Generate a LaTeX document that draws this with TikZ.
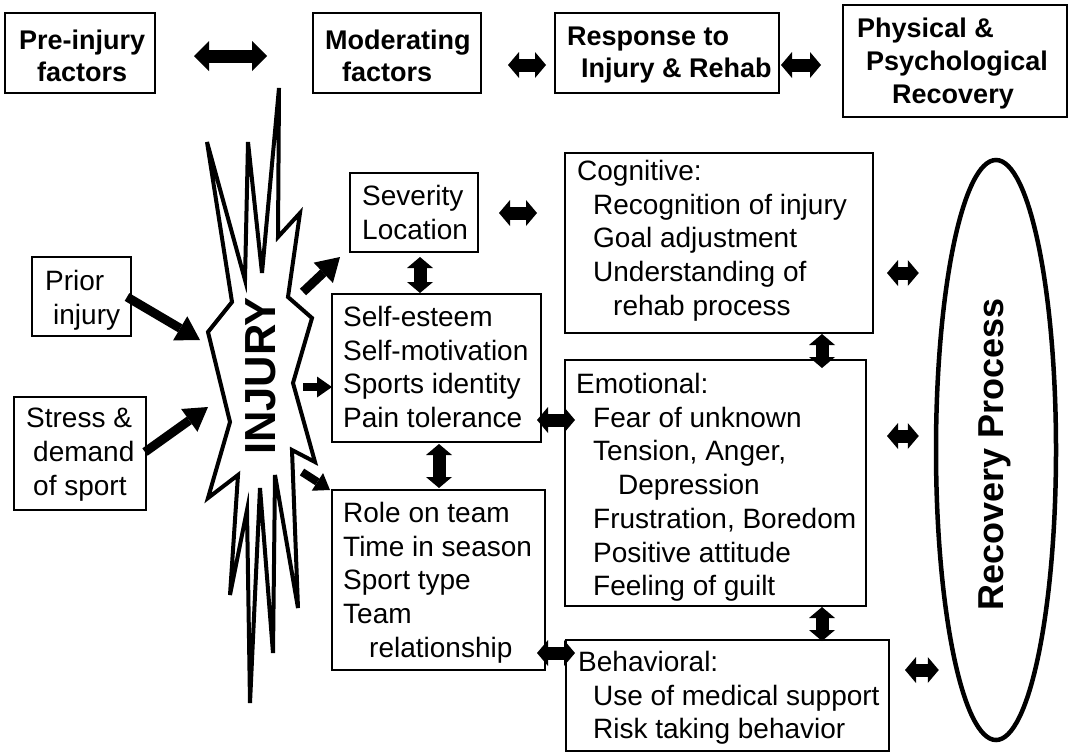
\documentclass[tikz,border=0pt]{standalone}
\usepackage{fontspec}
\setmainfont{Liberation Sans}
\usetikzlibrary{arrows.meta,calc,shapes.geometric}
\begin{document}
\begin{tikzpicture}[x=1pt,y=-1pt,
  box/.style={draw,line width=1.4pt,anchor=north west,inner sep=0pt,outer sep=0pt},
  txt/.style={anchor=north west,inner sep=0pt,align=left,font=\fontsize{28pt}{33.7pt}\selectfont},
  hd/.style={anchor=north west,inner sep=0pt,align=left,font=\bfseries\fontsize{27pt}{32pt}\selectfont},
  dbl/.style={line width=13pt,{Triangle[length=11pt,width=26pt,line width=0pt]}-{Triangle[length=11pt,width=26pt,line width=0pt]}},
  dblbig/.style={line width=13pt,{Triangle[length=15pt,width=30pt,line width=0pt]}-{Triangle[length=15pt,width=30pt,line width=0pt]}},
  arr/.style={line width=9pt,-{Triangle[length=23pt,width=28pt,line width=0pt]}},
  sarr/.style={line width=8pt,-{Triangle[length=15pt,width=21pt,line width=0pt]}}]
\useasboundingbox (0,0) rectangle (1070,753);
\fill[white] (0,0) rectangle (1070,753);

% top row
\node[box,minimum width=150pt,minimum height=80pt] (pre) at (5,13) {};
\node[hd] (pret) at (19,29.7) {Pre-injury\\\hspace*{18pt}factors};
\node[box,minimum width=168pt,minimum height=80pt] (mod) at (313,13) {};
\node[hd] (modt) at (325,29.7) {Moderating\\\hspace*{17pt}factors};
\node[box,minimum width=224pt,minimum height=80pt] (resp) at (555,13) {};
\node[hd] (respt) at (567,26.7) {Response to\\\hspace*{14pt}Injury \& Rehab};
\node[box,minimum width=224pt,minimum height=112pt] (phys) at (843,5) {};
\node[hd,font=\bfseries\fontsize{27pt}{33pt}\selectfont] (physt) at (857,17.7) {Physical \&\\\hspace*{9pt}Psychological\\\hspace*{35pt}Recovery};

% starburst
\draw[line width=4pt,fill=white,line join=miter]
  (279,88) -- (278,237) -- (300,213) -- (288,297) -- (312,318) -- (293,383)
  -- (315,462) -- (292,450) -- (298,608) -- (275,475) -- (273,653) -- (260,488)
  -- (250,703) -- (247,510) -- (230,595) -- (238,475) -- (208,498) -- (230,422)
  -- (208,332) -- (232,302) -- (207,142) -- (245,280) -- (248,142) -- (262,273) -- cycle;
\node[rotate=90,inner sep=0pt,font=\bfseries\fontsize{43.5pt}{44pt}\selectfont] (injury) at (261,376) {INJURY};
\coordinate (ia) at (200,340);
\coordinate (ib) at (208,407);
\coordinate (ic) at (303,292);
\coordinate (id) at (303,387);
\coordinate (ie) at (302,472);

% left boxes
\node[box,minimum width=99pt,minimum height=79pt] (prior) at (32,257) {};
\node[txt] (priort) at (45,270) {Prior\\\hspace*{8pt}injury};
\node[box,minimum width=132pt,minimum height=113pt] (stress) at (14,397) {};
\node[txt] (stresst) at (26,408) {Stress \&\\\hspace*{7pt}demand\\\hspace*{7pt}of sport};

% middle boxes
\node[box,minimum width=128pt,minimum height=79pt] (sev) at (350,173) {};
\node[txt] (sevt) at (362,185) {Severity\\Location};
\node[box,minimum width=209pt,minimum height=148pt] (self) at (332,294) {};
\node[txt] (selft) at (343,306) {Self-esteem\\Self-motivation\\Sports identity\\Pain tolerance};
\node[box,minimum width=213pt,minimum height=180pt] (role) at (332,490) {};
\node[txt] (rolet) at (343,502) {Role on team\\Time in season\\Sport type\\Team\\\hspace*{26pt}relationship};

% right boxes
\node[box,minimum width=308pt,minimum height=180pt] (cog) at (565,153) {};
\node[txt] (cogt) at (577,160) {Cognitive:\\\hspace*{16pt}Recognition of injury\\\hspace*{16pt}Goal adjustment\\\hspace*{16pt}Understanding of\\\hspace*{36pt}rehab process};
\node[box,minimum width=301pt,minimum height=246pt] (emo) at (565,360) {};
\node[txt] (emot) at (576,373) {Emotional:\\\hspace*{17pt}Fear of unknown\\\hspace*{17pt}Tension, Anger,\\\hspace*{42pt}Depression\\\hspace*{17pt}Frustration, Boredom\\\hspace*{17pt}Positive attitude\\\hspace*{17pt}Feeling of guilt};
\node[box,minimum width=323pt,minimum height=111pt] (beh) at (566,640) {};
\node[txt] (beht) at (578,651) {Behavioral:\\\hspace*{15pt}Use of medical support\\\hspace*{15pt}Risk taking behavior};

% recovery ellipse
\node[ellipse,draw,line width=4.5pt,minimum width=120pt,minimum height=580pt,inner sep=0pt] (rec) at (996,450) {};
\node[rotate=90,inner sep=0pt,font=\bfseries\fontsize{36pt}{40pt}\selectfont] (rect) at (995,454) {Recovery Process};

% single arrows
\draw[arr] ($(prior.east)+(-4,0.5)$) -- (ia);
\draw[arr] ($(stress.east)+(-1,-1.5)$) -- (ib);
\draw[arr] (ic) -- ($(sev.south west)+(-10,5)$);
\draw[sarr] (id) -- ($(self.west)+(0,19)$);
\draw[sarr] (ie) -- ($(role.north west)+(-2,0)$);

% double arrows
\draw[dblbig] ($(pre.east)+(39,3)$) -- ($(mod.west)+(-46,3)$);
\draw[dbl] ($(mod.east)+(27,12)$) -- ($(resp.west)+(-9,12)$);
\draw[dbl] ($(resp.east)+(2,12)$) -- ($(phys.west)+(-22,4)$);
\draw[dbl] ($(sev.east)+(21,0.5)$) -- ($(cog.west)+(-28,-30)$);
\draw[dbl] ($(sev.south)+(6,5)$) -- ($(self.north)+(-16.5,-1)$);
\draw[dbl] ($(self.south)+(2.5,2)$) -- ($(role.north)+(0.5,-2)$);
\draw[dbl] ($(self.east)+(-4,52)$) -- ($(emo.west)+(10,-63)$);
\draw[dbl] ($(role.east)+(-8,73)$) -- ($(beh.west)+(9,-42.5)$);
\draw[dbl] ($(cog.south)+(103,1)$) -- ($(emo.north)+(106.5,8)$);
\draw[dbl] ($(emo.south)+(106.5,1)$) -- ($(beh.north)+(94.5,1)$);
\draw[dbl] ($(cog.east)+(14,30)$) -- ($(rec.west)+(-15,-177)$);
\draw[dbl] ($(emo.east)+(21,-47)$) -- ($(rec.west)+(-15,-14)$);
\draw[dbl] ($(beh.east)+(16,-25.5)$) -- ($(rec.west)+(5,220)$);
\end{tikzpicture}
\end{document}
